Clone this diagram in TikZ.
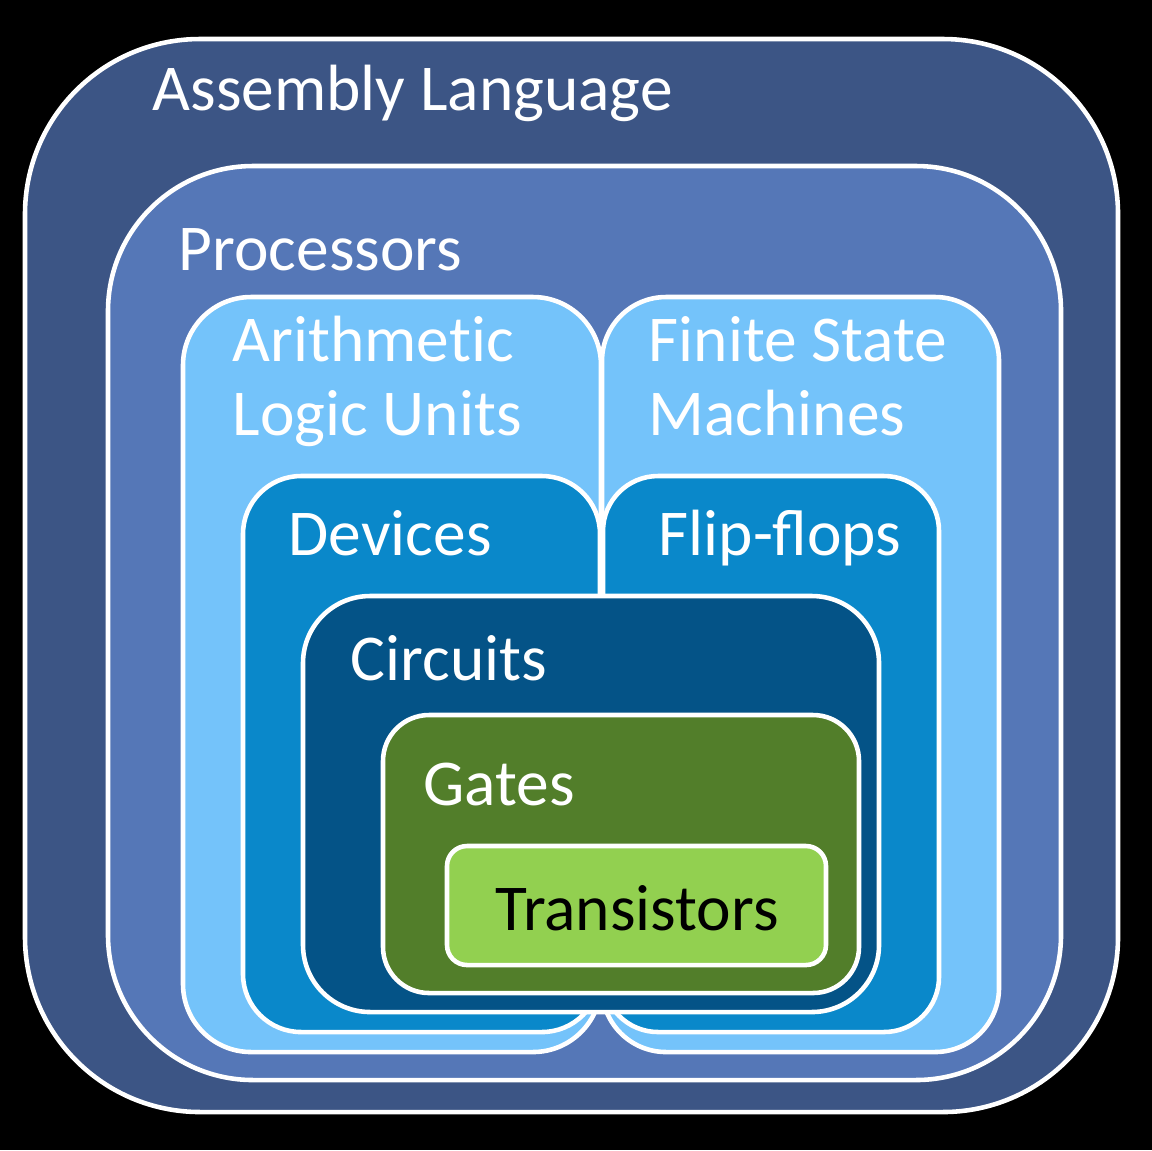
\documentclass[tikz,border=0pt]{standalone}
\usepackage{fontspec}
\setmainfont{Carlito}
\usepackage{tikz}

\definecolor{asmblue}{RGB}{60,85,133}
\definecolor{procblue}{RGB}{85,119,183}
\definecolor{skyblue}{RGB}{116,195,250}
\definecolor{devblue}{RGB}{10,136,202}
\definecolor{circblue}{RGB}{4,83,135}
\definecolor{gategreen}{RGB}{82,126,42}
\definecolor{transgreen}{RGB}{146,208,80}

\begin{document}
\begin{tikzpicture}[line cap=round,line join=round,x=0.01cm,y=-0.01cm,
  layer/.style={draw=white,line width=1.3pt},
  lbl/.style={inner sep=0pt,anchor=base west,text=white,align=left,
    font=\fontsize{18.6pt}{20.8pt}\selectfont}]
\fill[black] (0,0) rectangle (1152,1150);
% outer layers
\draw[layer,fill=asmblue,rounded corners=1.75cm] (25,39) rectangle (1118,1112);
\draw[layer,fill=procblue,rounded corners=1.45cm] (108,166) rectangle (1061,1080);
% two columns
\draw[layer,fill=skyblue,rounded corners=0.68cm] (183,297) rectangle (601,1052);
\draw[layer,fill=skyblue,rounded corners=0.64cm] (602,297) rectangle (999,1052);
\draw[layer,fill=devblue,rounded corners=0.58cm] (243,476) rectangle (600,1032);
\draw[layer,fill=devblue,rounded corners=0.55cm] (603,476) rectangle (939,1032);
% inner layers
\draw[layer,fill=circblue,rounded corners=0.67cm] (303,596) rectangle (879,1012);
\draw[layer,fill=gategreen,rounded corners=0.46cm] (383,715) rectangle (859,993);
\draw[layer,fill=transgreen,rounded corners=0.2cm] (447,846) rectangle (826,965);
% labels
\node[lbl] (asm) at (152,110) {Assembly Language};
\node[lbl] (proc) at (178,270) {Processors};
\node[lbl] (alu) at (232,435) {Arithmet\kern0pt ic\\Logic Units};
\node[lbl] (fsm) at (648,435) {Finite State\\Machines};
\node[lbl] (dev) at (288,555) {Devices};
\node[lbl] (ff) at (658,555) {Flip-flops};
\node[lbl] (circ) at (350,680) {Circuits};
\node[lbl] (gate) at (423,805) {Gates};
\node[lbl,anchor=base,text=black] (trans) at (637,930) {Transistors};
\end{tikzpicture}
\end{document}
